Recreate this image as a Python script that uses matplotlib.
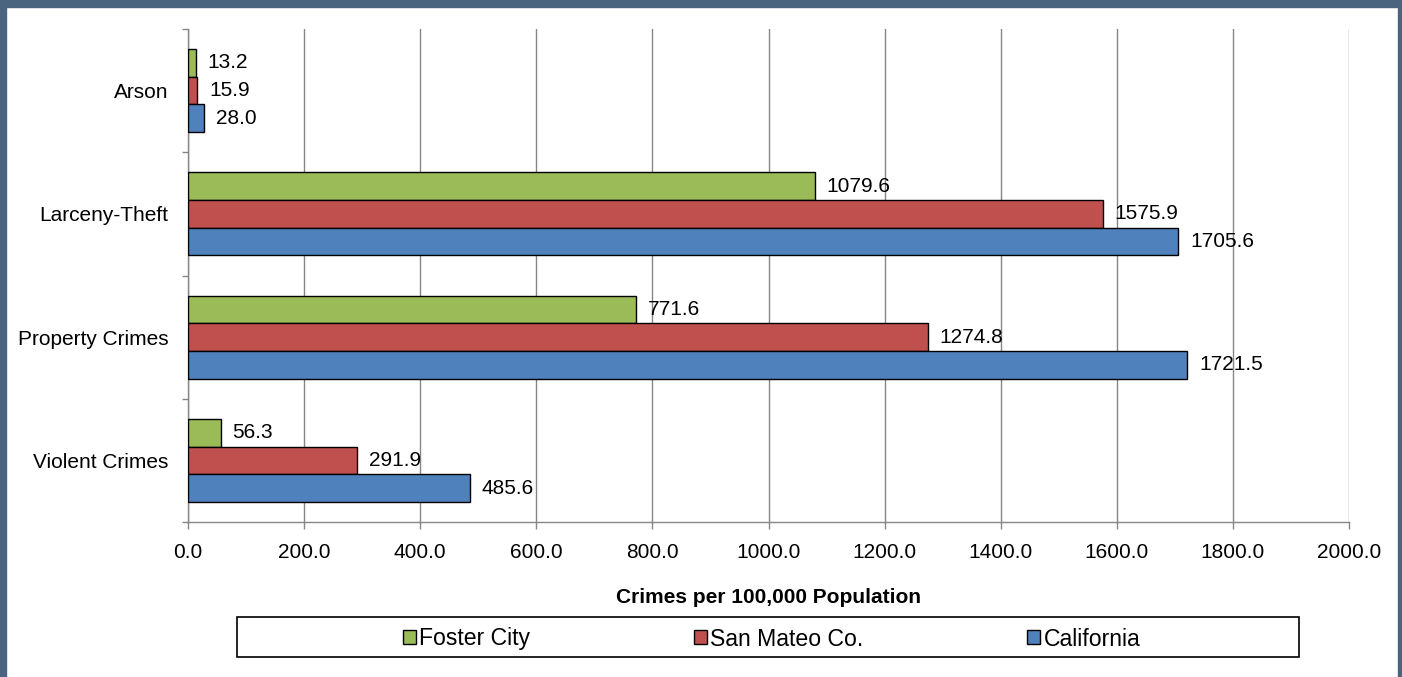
import matplotlib
matplotlib.use("Agg")
import matplotlib.pyplot as plt
from matplotlib.patches import Rectangle
import numpy as np

plt.rcParams['font.family'] = ['Liberation Sans', 'DejaVu Sans']

categories = ["Violent Crimes", "Property Crimes", "Larceny-Theft", "Arson"]
series_names = ["Foster City", "San Mateo Co.", "California"]
foster_city = [56.3, 771.6, 1079.6, 13.2]
san_mateo = [291.9, 1274.8, 1575.9, 15.9]
california = [485.6, 1721.5, 1705.6, 28.0]
x_ticks = [0, 200, 400, 600, 800, 1000, 1200, 1400, 1600, 1800, 2000]

colors = ["#9BBB59", "#C0504D", "#4F81BD"]
fs = 15

fig = plt.figure(figsize=(14.02, 6.77), dpi=100)
ax = fig.add_axes([188 / 1402, 1 - 522 / 677, (1349 - 188) / 1402, (522 - 29) / 677])

y = np.arange(len(categories))
h = 0.225
offsets = [h, 0, -h]
bars = []
for vals, name, col, off in zip([foster_city, san_mateo, california], series_names, colors, offsets):
    b = ax.barh(y + off, vals, height=h, color=col, edgecolor="black", linewidth=1.0,
                label=name, zorder=3)
    bars.append(b)
    for rect, v in zip(b, vals):
        ax.annotate(f"{v:.1f}", xy=(v, rect.get_y() + rect.get_height() / 2),
                    xytext=(8.5, 0), textcoords="offset points", va="center", ha="left",
                    fontsize=fs, zorder=4)

ax.set_xlim(0, 2000)
ax.set_ylim(-0.5, 3.5)
ax.set_xticks(x_ticks)
ax.set_xticklabels([f"{t:.1f}" for t in x_ticks], fontsize=fs)
ax.set_yticks(y)
ax.set_yticklabels(categories, fontsize=fs)
ax.set_yticks(np.arange(-0.5, 4.0, 1.0), minor=True)
ax.tick_params(axis="y", which="major", length=0, pad=14)
ax.tick_params(axis="y", which="minor", length=4, color="#868686", width=1)
ax.tick_params(axis="x", length=5, color="#868686", width=1, pad=10)
ax.xaxis.grid(True, color="#868686", linewidth=1, zorder=0)
ax.set_axisbelow(True)
for s in ["top", "right"]:
    ax.spines[s].set_visible(False)
for s in ["left", "bottom"]:
    ax.spines[s].set_color("#868686")
    ax.spines[s].set_linewidth(1)

ax.set_xlabel("Crimes per 100,000 Population", fontsize=fs, fontweight="bold", labelpad=18.5)

# legend box drawn separately so the entries can sit centred inside it
fig.patches.append(Rectangle((237 / 1402, 1 - 657 / 677), (1299 - 237) / 1402, 40 / 677,
                             transform=fig.transFigure, facecolor="white",
                             edgecolor="black", linewidth=1.2, zorder=5))
leg = fig.legend(handles=bars, labels=series_names, ncol=3, loc="center",
                 bbox_to_anchor=(771.5 / 1402, 1 - 639 / 677), fontsize=16.6, frameon=False,
                 handlelength=0.56, handleheight=0.56, handletextpad=0.15, columnspacing=7.1)
leg.set_zorder(6)

# dark frame around the chart area
border = "#4A6480"
fig.patches.append(Rectangle((0, 0), 6 / 1402, 1, transform=fig.transFigure, color=border, zorder=10))
fig.patches.append(Rectangle((0, 1 - 7 / 677), 1, 7 / 677, transform=fig.transFigure, color=border, zorder=10))
fig.patches.append(Rectangle((1 - 4 / 1402, 0), 4 / 1402, 1, transform=fig.transFigure, color=border, zorder=10))

fig.savefig("out.png", dpi=100)
